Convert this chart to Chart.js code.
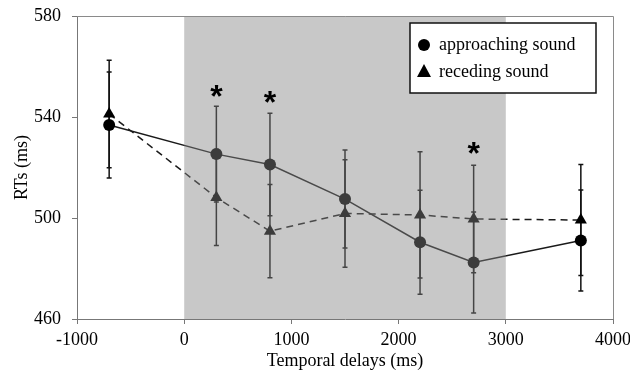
<!DOCTYPE html>
<html>
<head>
<meta charset="utf-8">
<script src="https://cdn.jsdelivr.net/npm/chart.js@4.4.0/dist/chart.umd.min.js"></script>
<style>
  body { margin: 0; background: #fff; }
  #wrap { width: 630px; height: 376px; }
</style>
</head>
<body>
<div id="wrap"><canvas id="rtChart"></canvas></div>
<script>
// temporal delays (ms) and mean RTs (ms)
const delays = [-700, 300, 800, 1500, 2200, 2700, 3700];
const approaching = [536.8, 525.3, 521.2, 507.5, 490.4, 482.4, 491.1];
const approachingErr = [21, 19, 20.3, 19.4, 20.6, 20, 20];
const receding = [541.2, 508.1, 494.8, 501.8, 501.2, 499.6, 499.2];
const recedingErr = [21.3, 19, 18.5, 21.3, 25, 21.3, 22];
// significant differences (asterisks)
const starX = [300, 800, 2700];
const starY = [549.5, 547, 527];
// shaded interval
const shadeFrom = 0;
const shadeTo = 3000;
const xTicks = [-1000, 0, 1000, 2000, 3000, 4000];
const yTicks = [460, 500, 540, 580];

const serif = '"Liberation Serif", "Times New Roman", serif';

function toPoints(xs, ys) {
  return xs.map(function (x, i) { return { x: x, y: ys[i] }; });
}

// keep the plot box fixed, no extra room for overflowing labels
function noPad(s) {
  s.paddingTop = 0; s.paddingBottom = 0; s.paddingLeft = 0; s.paddingRight = 0;
}

const errorBars = {
  id: 'errorBars',
  beforeDatasetsDraw(chart) {
    const ctx = chart.ctx;
    const xs = chart.scales.x, ys = chart.scales.y;
    const sets = [[approaching, approachingErr], [receding, recedingErr]];
    ctx.save();
    ctx.strokeStyle = '#111';
    ctx.lineWidth = 1.5;
    sets.forEach(function (s) {
      delays.forEach(function (d, i) {
        const px = xs.getPixelForValue(d);
        const top = ys.getPixelForValue(s[0][i] + s[1][i]);
        const bot = ys.getPixelForValue(s[0][i] - s[1][i]);
        ctx.beginPath();
        ctx.moveTo(px, top); ctx.lineTo(px, bot);
        ctx.moveTo(px - 2.5, top); ctx.lineTo(px + 2.5, top);
        ctx.moveTo(px - 2.5, bot); ctx.lineTo(px + 2.5, bot);
        ctx.stroke();
      });
    });
    ctx.restore();
  },
  afterDatasetsDraw(chart) {
    const ctx = chart.ctx;
    const a = chart.chartArea;
    const xs = chart.scales.x;
    const x0 = xs.getPixelForValue(shadeFrom), x1 = xs.getPixelForValue(shadeTo);
    ctx.save();
    ctx.fillStyle = 'rgba(133,133,133,0.45)';
    ctx.fillRect(x0, a.top, x1 - x0, a.bottom - a.top);
    // frame top and right
    ctx.strokeStyle = '#8a8a8a';
    ctx.lineWidth = 1;
    ctx.beginPath();
    ctx.moveTo(a.left, a.top + 0.5); ctx.lineTo(a.right + 0.5, a.top + 0.5);
    ctx.lineTo(a.right + 0.5, a.bottom);
    ctx.stroke();
    ctx.restore();
  },
  afterDraw(chart) {
    const ctx = chart.ctx;
    const a = chart.chartArea;
    const xs = chart.scales.x, ys = chart.scales.y;
    ctx.save();
    // asterisks
    ctx.fillStyle = '#000';
    ctx.font = 'bold 32px "Liberation Sans", Arial, sans-serif';
    ctx.textAlign = 'center';
    ctx.textBaseline = 'middle';
    starX.forEach(function (x, i) {
      ctx.fillText('*', xs.getPixelForValue(x), ys.getPixelForValue(starY[i]) + 5);
    });
    // legend box
    const bx = a.right - 203, by = a.top + 7, bw = 186, bh = 70;
    ctx.fillStyle = '#fff';
    ctx.fillRect(bx, by, bw, bh);
    ctx.strokeStyle = '#111';
    ctx.lineWidth = 1.5;
    ctx.strokeRect(bx, by, bw, bh);
    ctx.fillStyle = '#000';
    ctx.beginPath();
    ctx.arc(bx + 14, by + 22, 6, 0, Math.PI * 2);
    ctx.fill();
    ctx.beginPath();
    ctx.moveTo(bx + 14, by + 41);
    ctx.lineTo(bx + 21, by + 54);
    ctx.lineTo(bx + 7, by + 54);
    ctx.closePath();
    ctx.fill();
    ctx.font = '18px ' + serif;
    ctx.textAlign = 'left';
    ctx.textBaseline = 'middle';
    ctx.fillText(chart.data.datasets[0].label, bx + 29, by + 22);
    ctx.fillText(chart.data.datasets[1].label, bx + 29, by + 49);
    ctx.restore();
  }
};

new Chart(document.getElementById('rtChart'), {
  type: 'line',
  data: {
    datasets: [
      {
        label: 'approaching sound',
        data: toPoints(delays, approaching),
        borderColor: '#1a1a1a',
        backgroundColor: '#000',
        borderWidth: 1.5,
        pointStyle: 'circle',
        pointRadius: 6,
        pointBorderWidth: 0,
        tension: 0
      },
      {
        label: 'receding sound',
        data: toPoints(delays, receding),
        borderColor: '#1a1a1a',
        backgroundColor: '#000',
        borderWidth: 1.5,
        borderDash: [7, 5],
        pointStyle: 'triangle',
        pointRadius: 7,
        pointBorderWidth: 0,
        tension: 0
      }
    ]
  },
  options: {
    responsive: true,
    maintainAspectRatio: false,
    animation: false,
    layout: { autoPadding: false, padding: { left: 0, top: 16, right: 17, bottom: 0 } },
    plugins: {
      legend: { display: false },
      tooltip: { enabled: false }
    },
    scales: {
      x: {
        type: 'linear',
        min: -1000,
        max: 4000,
        afterBuildTicks: function (s) { s.ticks = xTicks.map(function (v) { return { value: v }; }); },
        afterFit: function (s) { s.height = 57; noPad(s); },
        grid: { drawOnChartArea: false, tickLength: 5, color: '#777' },
        border: { color: '#777', width: 1 },
        ticks: {
          color: '#000', font: { family: serif, size: 18 }, padding: 5, maxRotation: 0,
          callback: function (v) { return String(v); }
        },
        title: { display: true, text: 'Temporal delays (ms)', color: '#000', font: { family: serif, size: 18 }, padding: { top: 0, bottom: 4 } }
      },
      y: {
        min: 460,
        max: 580,
        afterBuildTicks: function (s) { s.ticks = yTicks.map(function (v) { return { value: v }; }); },
        afterFit: function (s) { s.width = 77; noPad(s); },
        grid: { drawOnChartArea: false, tickLength: 5, color: '#777' },
        border: { color: '#777', width: 1 },
        ticks: {
          color: '#000', font: { family: serif, size: 18 }, padding: 11,
          callback: function (v) { return String(v); }
        },
        title: { display: true, text: 'RTs (ms)', color: '#000', font: { family: serif, size: 18 }, padding: { top: 11, bottom: 0 } }
      }
    }
  },
  plugins: [errorBars]
});
</script>
</body>
</html>
